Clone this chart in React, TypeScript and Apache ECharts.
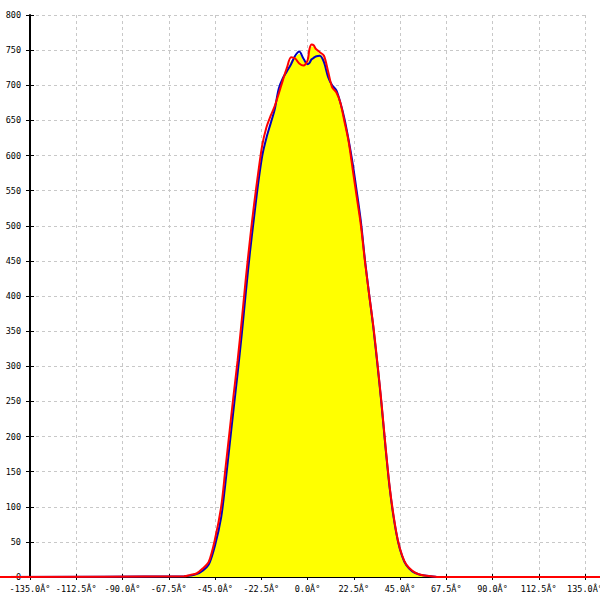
import React, { useEffect, useRef } from "react";
import * as echarts from "echarts";

const angles = [-150, -60, -57, -54, -51, -48, -45, -42, -40, -38, -36, -34, -32, -30, -28, -26, -24, -22, -20, -18, -16, -14, -12, -10, -8, -6, -4, -2, 0, 1, 2, 3, 4, 6, 8, 10, 12, 14, 16, 18, 20, 22, 24, 26, 28, 30, 32, 34, 36, 38, 40, 42, 44, 46, 48, 51, 54, 57, 60, 63, 143];

const redValues = [0, 1, 3, 5, 12, 22, 54, 100, 152, 205, 258, 308, 365, 425, 480, 530, 575, 615, 640, 656, 670, 688, 707, 725, 740, 738, 731, 728, 735, 752, 758, 757, 752, 747, 742, 720, 697, 690, 675, 648, 620, 580, 540, 500, 448, 402, 358, 305, 248, 185, 128, 85, 52, 31, 18, 9, 4, 2, 1, 0, 0];

const blueValues = [0, 1, 2, 4, 9, 18, 45, 85, 132, 185, 238, 290, 345, 405, 462, 512, 560, 600, 625, 645, 665, 695, 710, 720, 730, 742, 748, 738, 730, 732, 737, 739, 741, 742, 733, 712, 700, 693, 675, 652, 622, 588, 548, 505, 450, 402, 356, 303, 246, 183, 126, 83, 51, 30, 17, 8, 4, 2, 1, 0, 0];

const yellowValues = [0, 1, 2, 4, 9, 18, 45, 85, 132, 185, 238, 290, 345, 405, 462, 512, 560, 600, 625, 645, 665, 690, 707, 720, 735, 740, 745, 735, 730, 748, 755, 755, 750, 745, 738, 715, 697, 690, 675, 648, 620, 582, 540, 500, 448, 400, 355, 302, 245, 182, 125, 82, 50, 29, 16, 8, 4, 2, 1, 0, 0];

const xTickStep = 22.5;
const xMin = -135;
const xMax = 135;
const yMin = 0;
const yMax = 800;
const yTickStep = 50;

const W = 600;
const PLOT_LEFT = 30;
const PLOT_RIGHT = 15;
const PLOT_TOP = 15;
const PLOT_BOTTOM = 23;

const pairs = (vals: number[]) => angles.map((a, i) => [a, vals[i]]);

const labelFont = {
  fontFamily: "DejaVu Sans Mono",
  fontSize: 8.5,
  color: "#000",
};

export default function App() {
  const ref = useRef<HTMLDivElement>(null);
  useEffect(() => {
    if (!ref.current) return;
    const chart = echarts.init(ref.current, undefined, { renderer: "svg" });
    const xFmt = (v: number) => {
      const k = (v - xMin) / xTickStep;
      if (Math.abs(k - Math.round(k)) > 1e-6) return "";
      return v.toFixed(1) + "Â°";
    };
    const pxPerDeg = (W - PLOT_LEFT - PLOT_RIGHT) / (xMax - xMin);
    const fullMin = xMin - PLOT_LEFT / pxPerDeg;
    const fullMax = xMax + PLOT_RIGHT / pxPerDeg;
    const common = { xAxisIndex: 2, yAxisIndex: 2, symbol: "none", smooth: 0.3, type: "line", clip: false };
    chart.setOption({
      animation: false,
      backgroundColor: "#fff",
      grid: [
        { left: PLOT_LEFT, right: PLOT_RIGHT, top: PLOT_TOP, bottom: PLOT_BOTTOM, containLabel: false, outerBoundsMode: "none" },
        { left: 0, right: 0, top: PLOT_TOP, bottom: PLOT_BOTTOM, containLabel: false, outerBoundsMode: "none" },
      ],
      xAxis: [
        {
          type: "value",
          gridIndex: 0,
          min: xMin,
          max: xMax,
          interval: xTickStep,
          axisLine: { show: true, onZero: false, lineStyle: { color: "#000", width: 2 } },
          axisTick: { show: true, length: 3, lineStyle: { color: "#000", width: 1 } },
          axisLabel: { ...labelFont, margin: 7, formatter: xFmt, showMaxLabel: true, showMinLabel: true },
          splitLine: { show: true, lineStyle: { color: "#c8c8c8", type: [3, 3], width: 1 } },
        },
        {
          type: "value",
          gridIndex: 0,
          min: xMin,
          max: xMax,
          interval: xTickStep,
          position: "bottom",
          axisLine: { show: false, onZero: false },
          axisTick: { show: true, inside: true, length: 3, lineStyle: { color: "#000", width: 1 } },
          axisLabel: { show: false },
          splitLine: { show: false },
        },
        {
          type: "value",
          gridIndex: 1,
          min: fullMin,
          max: fullMax,
          show: false,
        },
      ],
      yAxis: [
        {
          type: "value",
          gridIndex: 0,
          min: yMin,
          max: yMax,
          interval: yTickStep,
          axisLine: { show: true, onZero: false, lineStyle: { color: "#000", width: 2 } },
          axisTick: { show: true, length: 4, lineStyle: { color: "#000", width: 1 } },
          axisLabel: { ...labelFont, margin: 9 },
          splitLine: { show: true, lineStyle: { color: "#c8c8c8", type: [3, 3], width: 1 } },
        },
        {
          type: "value",
          gridIndex: 0,
          min: yMin,
          max: yMax,
          interval: yTickStep,
          position: "left",
          axisLine: { show: false, onZero: false },
          axisTick: { show: true, inside: true, length: 4, lineStyle: { color: "#000", width: 1 } },
          axisLabel: { show: false },
          splitLine: { show: false },
        },
        {
          type: "value",
          gridIndex: 1,
          min: yMin,
          max: yMax,
          show: false,
        },
      ],
      series: [
        {
          ...common,
          data: pairs(yellowValues),
          lineStyle: { width: 0, color: "#ffff00" },
          areaStyle: { color: "#ffff00", opacity: 1 },
          z: 2,
        },
        {
          ...common,
          data: pairs(blueValues),
          lineStyle: { width: 2, color: "#0000c0" },
          z: 3,
        },
        {
          ...common,
          data: pairs(redValues),
          lineStyle: { width: 2, color: "#ff0000" },
          z: 4,
        },
      ],
    });
    return () => chart.dispose();
  }, []);
  return <div ref={ref} style={{ width: W, height: 600, position: "absolute", left: 0, top: 0 }} />;
}
